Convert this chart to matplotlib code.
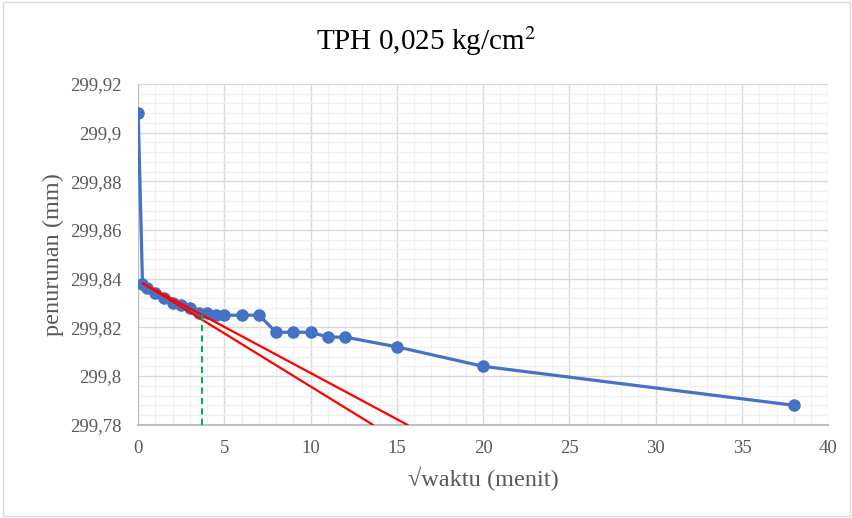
import matplotlib.pyplot as plt
from matplotlib.ticker import MultipleLocator, FuncFormatter
from matplotlib.patches import Rectangle

# settlement readings (sqrt time vs penurunan)
akar_waktu = [0, 0.25, 0.5, 1, 1.5, 2, 2.5, 3, 3.5, 4, 4.5, 5, 6, 7, 8, 9, 10, 11, 12, 15, 20, 38]
penurunan = [299.908, 299.838, 299.836, 299.834, 299.832, 299.830, 299.829, 299.828, 299.826,
             299.826, 299.825, 299.825, 299.825, 299.825, 299.818, 299.818, 299.818, 299.816,
             299.816, 299.812, 299.804, 299.788]

# tangent lines (red) and t90 marker (green)
garis1_x = [0.3, 13.6]
garis1_y = [299.838, 299.78]
garis2_x = [0.3, 15.6]
garis2_y = [299.838, 299.78]
t90_x = [3.68, 3.68]
t90_y = [299.78, 299.8256]

plt.rcParams['font.family'] = ['Liberation Serif', 'DejaVu Serif']

fig = plt.figure(figsize=(8.53, 5.18), dpi=100)
fig.patches.append(Rectangle((0.003, 0.004), 0.994, 0.992, transform=fig.transFigure,
                             fill=False, edgecolor='#D9D9D9', linewidth=1))
ax = fig.add_axes([0.162, 0.180, 0.809, 0.658])

ax.plot(akar_waktu, penurunan, color='#4472C4', linewidth=2.3, marker='o',
        markersize=8, zorder=3)
ax.plot(garis1_x, garis1_y, color='#FF0000', linewidth=1.6, zorder=4)
ax.plot(garis2_x, garis2_y, color='#FF0000', linewidth=1.6, zorder=4)
ax.plot(t90_x, t90_y, color='#00B050', linewidth=1.5, linestyle=(0, (3, 2)), zorder=4)

ax.set_xlim(0, 40)
ax.set_ylim(299.78, 299.92)
ax.xaxis.set_major_locator(MultipleLocator(5))
ax.xaxis.set_minor_locator(MultipleLocator(1))
ax.yaxis.set_major_locator(MultipleLocator(0.02))
ax.yaxis.set_minor_locator(MultipleLocator(0.004))
ax.yaxis.set_major_formatter(FuncFormatter(lambda v, p: ('%.5g' % v).replace('.', ',')))

ax.grid(which='major', color='#D9D9D9', linewidth=1)
ax.grid(which='minor', color='#F0F0F0', linewidth=1)
ax.set_axisbelow(True)
for s in ['top', 'right']:
    ax.spines[s].set_visible(False)
ax.spines['left'].set_color('#BFBFBF')
ax.spines['bottom'].set_color('#BFBFBF')
ax.spines['bottom'].set_linewidth(1.5)
ax.tick_params(which='both', length=0, labelsize=13.5, colors='#595959')
ax.tick_params(axis='y', pad=12)
ax.tick_params(axis='x', pad=11)

ax.set_xlabel('√waktu (menit)', fontsize=17.5, color='#595959', labelpad=7)
ax.set_ylabel('penurunan (mm)', fontsize=17.5, color='#595959', labelpad=4)
fig.text(0.5, 0.92, 'TPH 0,025 kg/cm$^2$', ha='center', va='center', fontsize=21,
         color='#000000', math_fontfamily='stix')

plt.savefig('out.png', dpi=100)
